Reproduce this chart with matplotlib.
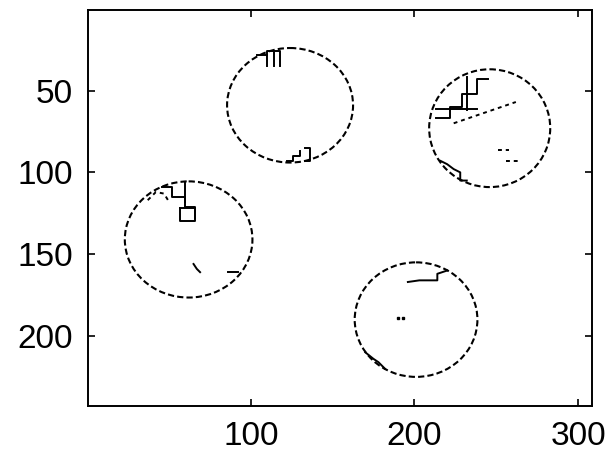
import matplotlib.pyplot as plt
from matplotlib.patches import Ellipse

plt.rcParams['font.family'] = ['Liberation Sans', 'DejaVu Sans']

# image size (pixels)
img_w = 308
img_h = 242

# detected blobs: centre and size
blob_x = [124, 246, 62, 201]
blob_y = [59, 73, 141, 190]
blob_w = [77, 74, 78, 75]
blob_h = [70, 72, 71, 70]

# spurious edge fragments inside the blobs
frag_solid = [
    ([110, 110, 118, 118], [35, 26, 26, 35]),
    ([114, 114], [26, 35]),
    ([104, 110], [28, 28]),
    ([122, 126, 126, 130, 130], [93, 93, 90, 90, 87]),
    ([133, 136, 136, 133], [85, 85, 93, 93]),
    ([213, 222, 222, 229, 229, 238, 238, 245], [67, 67, 60, 60, 52, 52, 43, 43]),
    ([232, 232], [42, 62]),
    ([213, 238], [61, 61]),
    ([216, 220, 224, 228, 228, 232], [93, 95, 98, 100, 105, 105]),
    ([46, 52, 52, 60, 60, 66, 66], [109, 109, 115, 115, 121, 121, 128]),
    ([57, 57, 66, 66, 57], [122, 130, 130, 122, 122]),
    ([60, 60], [106, 118]),
    ([65, 67, 69], [156, 159, 161]),
    ([86, 92], [161, 161]),
    ([196, 203, 210, 214, 214, 220], [167, 166, 166, 166, 162, 160]),
    ([170, 175, 178, 182], [210, 214, 216, 220]),
]
frag_dotted = [
    ([224, 262], [70, 57]),
    ([251, 258], [86.5, 86.5]),
    ([256, 264], [93, 93]),
    ([37, 42, 47, 50], [117, 112, 113, 118]),
]
dot_x = [190, 193]
dot_y = [189, 189]

fig = plt.figure(figsize=(6.09, 4.61), dpi=100)
ax = fig.add_axes([0.1445, 0.117, 0.8275, 0.8656])

for cx, cy, w, h in zip(blob_x, blob_y, blob_w, blob_h):
    ax.add_patch(Ellipse((cx, cy), w, h, fill=False, edgecolor='black',
                         linewidth=1.5, linestyle=(0, (3, 1.5))))
for xs, ys in frag_solid:
    ax.plot(xs, ys, color='black', linewidth=1.4)
for xs, ys in frag_dotted:
    ax.plot(xs, ys, color='black', linewidth=1.4, linestyle=(0, (2, 2)))
ax.plot(dot_x, dot_y, 's', color='black', markersize=2)

ax.set_xlim(0.5, img_w + 0.5)
ax.set_ylim(img_h + 0.5, 0.5)
ax.set_aspect('equal')
ax.set_xticks([100, 200, 300])
ax.set_yticks([50, 100, 150, 200])
ax.tick_params(direction='in', length=5, width=1.2, top=True, right=True,
               labelsize=24, pad=11)
for s in ax.spines.values():
    s.set_linewidth(1.4)

fig.savefig('out.png', dpi=100)
